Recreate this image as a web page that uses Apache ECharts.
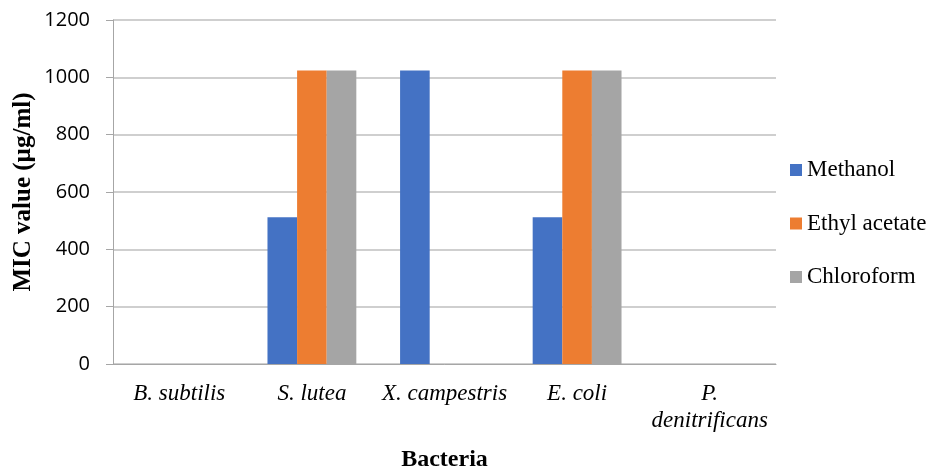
<!DOCTYPE html>
<html><head><meta charset="utf-8">
<script src="https://cdn.jsdelivr.net/npm/echarts@6/dist/echarts.min.js"></script>
<style>html,body{margin:0;padding:0;background:#fff}#c{width:934px;height:469px}</style>
</head><body><div id="c"></div>
<script>
const categories = ['B. subtilis', 'S. lutea', 'X. campestris', 'E. coli', 'P.\ndenitrificans'];
const methanol = [0, 512, 1024, 512, 0];
const ethylAcetate = [0, 1024, 0, 1024, 0];
const chloroform = [0, 1024, 0, 1024, 0];
const yTicks = [0, 200, 400, 600, 800, 1000, 1200];

const chart = echarts.init(document.getElementById('c'));
const serif = '"Liberation Serif", "Times New Roman", serif';
chart.setOption({
  animation: false,
  grid: {left: 113, right: 158, top: 20, bottom: 105, containLabel: false, outerBoundsMode: 'none'},
  legend: {
    orient: 'vertical', left: 790, top: 158, itemGap: 29.5, padding: 0,
    itemWidth: 12, itemHeight: 12, icon: 'rect',
    textStyle: {fontFamily: serif, fontSize: 23, lineHeight: 24, color: '#000'},
    data: ['Methanol', 'Ethyl acetate', 'Chloroform']
  },
  xAxis: {
    type: 'category', data: categories,
    name: 'Bacteria', nameLocation: 'middle', nameGap: 84,
    nameTextStyle: {fontFamily: serif, fontSize: 24, fontWeight: 'bold', color: '#000'},
    nameMoveOverlap: false,
    axisLine: {lineStyle: {color: '#a6a6a6', width: 1}},
    axisTick: {show: false},
    axisLabel: {fontFamily: serif, fontSize: 23, fontStyle: 'italic', color: '#000', margin: 16, lineHeight: 27, interval: 0, verticalAlign: 'top', hideOverlap: false}
  },
  yAxis: {
    type: 'value', min: 0, max: 1200, interval: 200,
    name: 'MIC value (µg/ml)', nameLocation: 'middle', nameGap: 77, nameRotate: 90,
    nameTextStyle: {fontFamily: serif, fontSize: 25, fontWeight: 'bold', color: '#000'},
    nameMoveOverlap: false,
    axisLine: {show: true, lineStyle: {color: '#a6a6a6', width: 1}},
    axisTick: {show: true, length: 7, lineStyle: {color: '#a6a6a6'}},
    axisLabel: {fontFamily: '"Open Sans", "Liberation Sans", sans-serif', fontSize: 20, color: '#000', margin: 23,
      formatter: v => yTicks.includes(v) ? String(v) : ''},
    splitLine: {lineStyle: {color: '#bfbfbf', width: 1.5}}
  },
  series: [
    {name: 'Methanol', type: 'bar', data: methanol, itemStyle: {color: '#4472c4'}, barGap: '0%', barCategoryGap: '33%'},
    {name: 'Ethyl acetate', type: 'bar', data: ethylAcetate, itemStyle: {color: '#ed7d31'}},
    {name: 'Chloroform', type: 'bar', data: chloroform, itemStyle: {color: '#a5a5a5'}}
  ]
});
</script></body></html>
